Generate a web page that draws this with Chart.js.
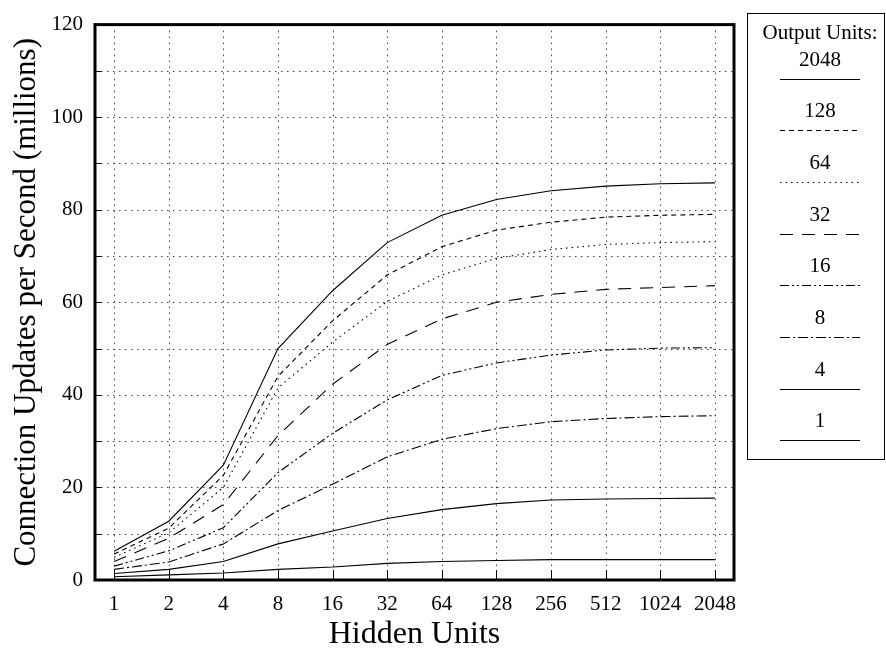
<!DOCTYPE html>
<html><head><meta charset="utf-8">
<script src="https://cdn.jsdelivr.net/npm/chart.js@4/dist/chart.umd.min.js"></script>
<style>html,body{margin:0;padding:0;background:#fff;}#wrap{width:886px;height:652px;position:relative;}</style>
</head><body><div id="wrap"><canvas id="c" width="886" height="652"></canvas></div>
<script>
// Data
const categories = ['1','2','4','8','16','32','64','128','256','512','1024','2048'];
const outputUnits = ['2048','128','64','32','16','8','4','1'];
const yTickLabels = ['0','20','40','60','80','100','120'];
const s2048 = [6.2, 12.7, 24.8, 50.0, 62.5, 72.9, 78.8, 82.2, 84.1, 85.1, 85.6, 85.8];
const s128  = [5.6, 11.2, 22.6, 44.0, 56.0, 65.9, 72.0, 75.6, 77.3, 78.4, 78.8, 79.0];
const s64   = [4.9, 10.2, 20.0, 41.5, 51.4, 60.2, 65.9, 69.5, 71.4, 72.5, 72.9, 73.1];
const s32   = [4.0,  9.0, 16.3, 31.2, 42.3, 50.9, 56.4, 60.0, 61.7, 62.8, 63.2, 63.6];
const s16   = [3.0,  6.3, 11.3, 23.2, 31.7, 38.9, 44.2, 46.9, 48.6, 49.7, 50.1, 50.2];
const s8    = [2.3,  3.9,  7.8, 15.0, 20.7, 26.6, 30.4, 32.7, 34.2, 34.9, 35.3, 35.5];
const s4    = [1.4,  2.3,  4.0,  7.8, 10.6, 13.3, 15.2, 16.5, 17.3, 17.5, 17.6, 17.7];
const s1    = [0.7,  1.1,  1.5,  2.3,  2.8,  3.6,  4.0,  4.2,  4.4,  4.4,  4.4,  4.4];

const seriesValues = [s2048, s128, s64, s32, s16, s8, s4, s1];
const dashes = [[], [5,4], [1.5,4], [13,9], [9,3,2,3,2,3], [10,3,2,3], [], []];

const SERIF = '"Liberation Serif", "DejaVu Serif", serif';

const datasets = seriesValues.map((vals, k) => ({
  label: outputUnits[k],
  data: vals.map((v, i) => ({x: i, y: v})),
  borderColor: '#000',
  borderWidth: 1.1,
  borderDash: dashes[k],
  pointRadius: 0,
  fill: false,
  tension: 0
}));

const decor = {
  id: 'decor',
  beforeDatasetsDraw(chart) {
    const {ctx, chartArea: a, scales: {x, y}} = chart;
    ctx.save();
    ctx.strokeStyle = '#444';
    ctx.lineWidth = 1;
    ctx.setLineDash([1.5, 4.5]);
    x.ticks.forEach(t => {
      const px = Math.round(x.getPixelForValue(t.value)) + 0.5;
      ctx.beginPath(); ctx.moveTo(px, a.top); ctx.lineTo(px, a.bottom); ctx.stroke();
    });
    y.ticks.forEach(t => {
      const py = Math.round(y.getPixelForValue(t.value)) + 0.5;
      ctx.beginPath(); ctx.moveTo(a.left, py); ctx.lineTo(a.right, py); ctx.stroke();
    });
    ctx.setLineDash([]);
    ctx.strokeStyle = '#000';
    x.ticks.forEach(t => {
      const px = Math.round(x.getPixelForValue(t.value)) + 0.5;
      ctx.beginPath(); ctx.moveTo(px, a.bottom); ctx.lineTo(px, a.bottom - 10); ctx.stroke();
    });
    y.ticks.forEach(t => {
      const py = Math.round(y.getPixelForValue(t.value)) + 0.5;
      ctx.beginPath(); ctx.moveTo(a.left, py); ctx.lineTo(a.left + 6, py); ctx.stroke();
    });
    ctx.restore();
  },
  afterDraw(chart) {
    const {ctx, chartArea: a} = chart;
    ctx.save();
    ctx.strokeStyle = '#000';
    ctx.lineWidth = 3;
    ctx.strokeRect(a.left, a.top, a.right - a.left, a.bottom - a.top);
    // legend box
    ctx.lineWidth = 1;
    ctx.strokeRect(747.5, 13.5, 137, 446);
    ctx.fillStyle = '#000';
    ctx.font = '21px ' + SERIF;
    ctx.textAlign = 'center';
    ctx.textBaseline = 'middle';
    const cx = 820;
    ctx.fillText('Output Units:', cx, 33);
    chart.data.datasets.forEach((ds, i) => {
      const ty = 60 + 51.7 * i;
      const ly = Math.round(78.5 + 51.7 * i) + 0.5;
      ctx.fillText(ds.label, cx, ty);
      ctx.setLineDash(ds.borderDash || []);
      ctx.beginPath(); ctx.moveTo(780, ly); ctx.lineTo(860, ly); ctx.stroke();
    });
    ctx.restore();
  }
};

new Chart(document.getElementById('c'), {
  type: 'line',
  data: { datasets },
  options: {
    responsive: false,
    animation: false,
    devicePixelRatio: 1,
    layout: { padding: { top: 12, right: 152, bottom: 0, left: 0 } },
    plugins: { legend: { display: false }, tooltip: { enabled: false } },
    scales: {
      x: {
        type: 'linear',
        min: -0.35, max: 11.35,
        afterFit(s) { s.height = 72; },
        grid: { display: false, drawTicks: false },
        border: { display: false },
        ticks: {
          stepSize: 1, includeBounds: false, autoSkip: false, maxRotation: 0,
          padding: 12, color: '#000',
          font: { family: SERIF, size: 21 },
          callback: (v) => categories[v] !== undefined ? categories[v] : ''
        },
        title: {
          display: true, text: 'Hidden Units', color: '#000',
          font: { family: SERIF, size: 32, lineHeight: 1 },
          padding: { top: 0, bottom: 1 }
        }
      },
      y: {
        min: 0, max: 120,
        afterFit(s) { s.width = 95; },
        grid: { display: false, drawTicks: false },
        border: { display: false },
        ticks: {
          stepSize: 10, padding: 12, color: '#000', autoSkip: false,
          font: { family: SERIF, size: 21 },
          callback: (v) => yTickLabels.includes(String(v)) ? String(v) : ''
        },
        title: {
          display: true, text: 'Connection Updates per Second (millions)', color: '#000',
          font: { family: SERIF, size: 31, lineHeight: 1 },
          padding: { top: 11, bottom: 0 }
        }
      }
    }
  },
  plugins: [decor]
});
</script></body></html>
